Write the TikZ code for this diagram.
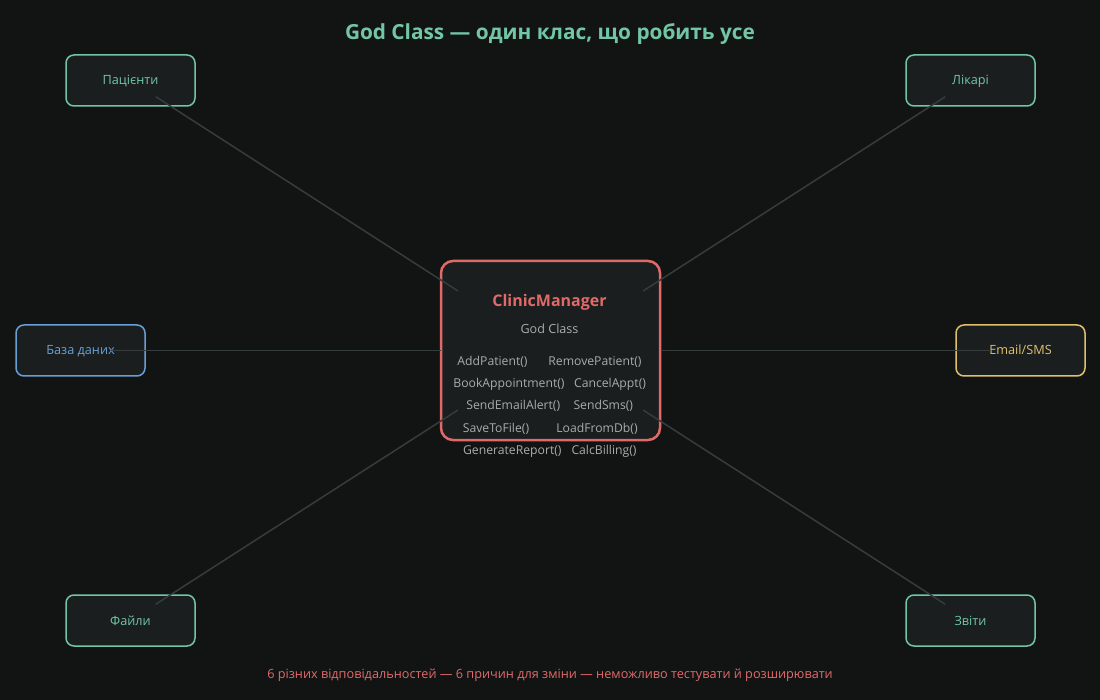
\documentclass[tikz,border=0pt]{standalone}
\usepackage{fontspec}
\setmainfont{Open Sans}
\definecolor{bg}{HTML}{121414}
\definecolor{nodefill}{HTML}{1A1E1E}
\definecolor{cgreen}{HTML}{72C6A6}
\definecolor{cblue}{HTML}{6A9FD6}
\definecolor{cyellow}{HTML}{E0C06C}
\definecolor{cred}{HTML}{E06A6A}
\definecolor{cgray}{HTML}{A8ACAC}
\definecolor{cline}{HTML}{343C3C}
\begin{document}
\begin{tikzpicture}[x=1pt,y=-1pt,
  outer/.style={draw, fill=nodefill, rounded corners=8pt, line width=1.5pt,
    minimum width=129pt, minimum height=51pt, inner sep=0pt,
    text height=9pt, text depth=0pt,
    font=\fontsize{12.7}{14}\selectfont},
  central/.style={draw=cred, fill=nodefill, rounded corners=12pt, line width=2.5pt,
    minimum width=219pt, minimum height=179pt, inner sep=0pt},
  meth/.style={text=cgray, inner sep=0pt, text height=8.7pt, text depth=0pt,
    font=\fontsize{12.2}{14}\selectfont},
  conn/.style={draw=cline, line width=1.5pt, shorten <=30pt, shorten >=110pt}]
\fill[bg] (0,0) rectangle (1100,700);
\useasboundingbox (0,0) rectangle (1100,700);
\node[text=cgreen, font=\bfseries\fontsize{20.8}{24}\selectfont, inner sep=0pt,
  text height=14.8pt, text depth=0pt] (title) at (550,32) {God Class — один клас, що робить усе};
\node[outer, draw=cgreen, text=cgreen] (pac) at (130.5,80.5) {Пацієнти};
\node[outer, draw=cgreen, text=cgreen] (lik) at (970.5,80.5) {Лікарі};
\node[outer, draw=cblue, text=cblue] (db) at (80.5,350.5) {База даних};
\node[outer, draw=cyellow, text=cyellow] (mail) at (1020.5,350.5) {Email/SMS};
\node[outer, draw=cgreen, text=cgreen] (fil) at (130.5,620.5) {Файли};
\node[outer, draw=cgreen, text=cgreen] (rep) at (970.5,620.5) {Звіти};
\node[central] (cm) at (550.5,350.5) {};
\node[text=cred, inner sep=0pt, text height=11.4pt, text depth=0pt,
  font=\bfseries\fontsize{16}{18}\selectfont] (cmname) at (549.5,301) {ClinicManager};
\node[meth, font=\fontsize{12.6}{14}\selectfont] (godc) at (549.5,329.5) {God Class};
\node[meth] (m1) at (492.5,361) {AddPatient()};
\node[meth] (m2) at (595,361) {RemovePatient()};
\node[meth] (m3) at (509,383.3) {BookAppointment()};
\node[meth] (m4) at (610,383.3) {CancelAppt()};
\node[meth] (m5) at (513.3,405) {SendEmailAlert()};
\node[meth] (m6) at (603.3,405) {SendSms()};
\node[meth] (m7) at (496,427.7) {SaveToFile()};
\node[meth] (m8) at (597,427.7) {LoadFromDb()};
\node[meth] (m9) at (512.3,450) {GenerateReport()};
\node[meth] (m10) at (604,450) {CalcBilling()};
\node[text=cred, inner sep=0pt, text height=9pt, text depth=0pt,
  font=\fontsize{12.7}{14}\selectfont] (foot) at (550,674) {6 різних відповідальностей — 6 причин для зміни — неможливо тестувати й розширювати};
\draw[conn] (pac.center) -- (cm.center);
\draw[conn] (lik.center) -- (cm.center);
\draw[conn] (db.center) -- (cm.center);
\draw[conn] (mail.center) -- (cm.center);
\draw[conn] (fil.center) -- (cm.center);
\draw[conn] (rep.center) -- (cm.center);
\end{tikzpicture}
\end{document}
